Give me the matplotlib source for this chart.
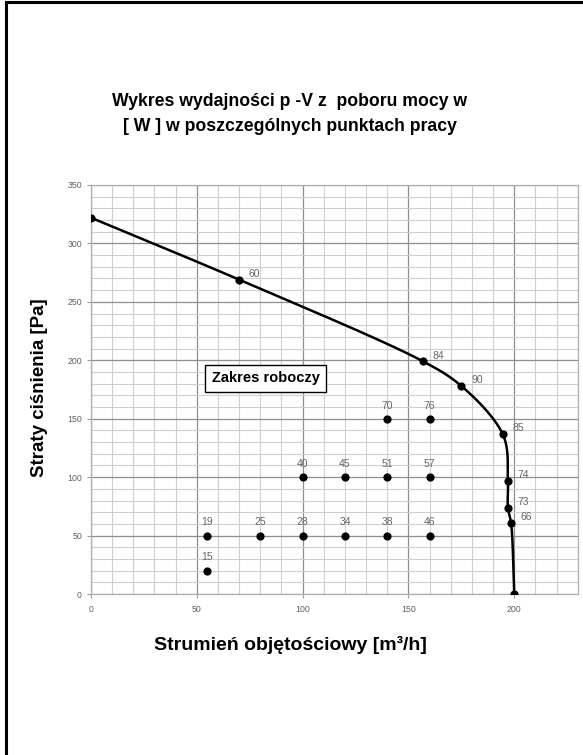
import numpy as np
import matplotlib.pyplot as plt
from matplotlib.lines import Line2D
from matplotlib.ticker import MultipleLocator

# fan curve (flow [m3/h], pressure [Pa]) and power labels
curve_x = [0, 70, 157, 175, 194.5, 197, 197, 198.5, 200]
curve_y = [322, 269, 199, 178, 137, 97, 74, 61, 0]
curve_lbl = ['', '60', '84', '90', '85', '74', '73', '66', '']

# working range points
pts_x = [55, 55, 80, 100, 120, 140, 160, 100, 120, 140, 160, 140, 160]
pts_y = [20, 50, 50, 50, 50, 50, 50, 100, 100, 100, 100, 150, 150]
pts_lbl = ['15', '19', '25', '28', '34', '38', '46', '40', '45', '51', '57', '70', '76']


def catmull_rom(xs, ys, n=30):
    # centripetal catmull-rom, only used to draw a smooth line through the points
    P = np.column_stack([xs, ys]).astype(float)
    P = np.vstack([2 * P[0] - P[1], P, 2 * P[-1] - P[-2]])
    out = []
    for i in range(1, len(P) - 2):
        p0, p1, p2, p3 = P[i - 1], P[i], P[i + 1], P[i + 2]
        t0 = 0
        t1 = t0 + np.linalg.norm(p1 - p0) ** 0.5 + 1e-9
        t2 = t1 + np.linalg.norm(p2 - p1) ** 0.5 + 1e-9
        t3 = t2 + np.linalg.norm(p3 - p2) ** 0.5 + 1e-9
        t = np.linspace(t1, t2, n)[:, None]
        a1 = (t1 - t) / (t1 - t0) * p0 + (t - t0) / (t1 - t0) * p1
        a2 = (t2 - t) / (t2 - t1) * p1 + (t - t1) / (t2 - t1) * p2
        a3 = (t3 - t) / (t3 - t2) * p2 + (t - t2) / (t3 - t2) * p3
        b1 = (t2 - t) / (t2 - t0) * a1 + (t - t0) / (t2 - t0) * a2
        b2 = (t3 - t) / (t3 - t1) * a2 + (t - t1) / (t3 - t1) * a3
        c = (t2 - t) / (t2 - t1) * b1 + (t - t1) / (t2 - t1) * b2
        out.append(c)
    out = np.vstack(out)
    return out[:, 0], out[:, 1]


plt.rcParams['font.family'] = ['Liberation Sans', 'DejaVu Sans']

fig = plt.figure(figsize=(5.83, 7.55), dpi=100)
ax = fig.add_axes([0.156, 0.2132, 0.835, 0.5418])

ax.set_xlim(0, 230)
ax.set_ylim(0, 350)
ax.xaxis.set_major_locator(MultipleLocator(50))
ax.yaxis.set_major_locator(MultipleLocator(50))
ax.xaxis.set_minor_locator(MultipleLocator(10))
ax.yaxis.set_minor_locator(MultipleLocator(10))
ax.grid(which='major', color='#8f8f8f', lw=0.9)
ax.grid(which='minor', color='#cfcfcf', lw=0.8)
ax.set_axisbelow(True)
ax.set_xticks([0, 50, 100, 150, 200])
for s in ax.spines.values():
    s.set_color('#b0b0b0')
    s.set_linewidth(0.9)
ax.tick_params(which='major', labelsize=6.3, labelcolor='#606060', color='#9a9a9a', length=3)
ax.tick_params(which='minor', length=0)
ax.tick_params(axis='x', pad=5)

sx, sy = catmull_rom(curve_x, curve_y)
ax.plot(sx, sy, color='black', lw=1.8, zorder=3)
ax.scatter(curve_x, curve_y, s=24, color='black', zorder=4)
for x, y, l in zip(curve_x, curve_y, curve_lbl):
    if l:
        ax.annotate(l, (x, y), xytext=(7, 4), textcoords='offset points',
                    fontsize=7.5, color='#666666', ha='left', va='center')

ax.scatter(pts_x, pts_y, s=24, color='black', zorder=4)
for x, y, l in zip(pts_x, pts_y, pts_lbl):
    ax.annotate(l, (x, y), xytext=(0, 9.5), textcoords='offset points',
                fontsize=7.5, color='#666666', ha='center', va='center')

ax.text(82.7, 184.5, 'Zakres roboczy', fontsize=10.5, fontweight='bold', ha='center', va='center',
        bbox=dict(boxstyle='square,pad=0.45', fc='white', ec='black', lw=1.0), zorder=5)

fig.text(0.497, 0.849, 'Wykres wydajności p -V z  poboru mocy w\n[ W ] w poszczególnych punktach pracy',
         ha='center', va='center', fontsize=12.7, fontweight='bold', linespacing=1.6)
fig.text(0.499, 0.146, 'Strumień objętościowy [m³/h]', ha='center', va='center',
         fontsize=14, fontweight='bold')
fig.text(0.068, 0.486, 'Straty ciśnienia [Pa]', ha='center', va='center',
         fontsize=13.5, fontweight='bold', rotation=90)

# frame lines (top and left)
fig.add_artist(Line2D([0.011, 1.0], [0.997, 0.997], color='black', lw=2.2, transform=fig.transFigure))
fig.add_artist(Line2D([0.011, 0.011], [0.0, 0.997], color='black', lw=2.2, transform=fig.transFigure))

fig.savefig('out.png', dpi=100)
